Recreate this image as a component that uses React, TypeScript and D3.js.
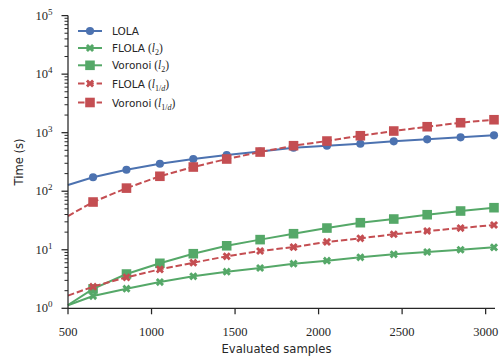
import React from "react";
import * as d3 from "d3";

// Evaluated sample counts (first point is the unmarked start of each curve)
const samples = [500, 650, 850, 1050, 1250, 1450, 1650, 1850, 2050, 2250, 2450, 2650, 2850, 3050];

// Run time in seconds for each method
const lola = [128, 173, 233, 295, 355, 415, 476, 553, 599, 648, 712, 770, 833, 901];
const flolaL2 = [1.13, 1.62, 2.16, 2.81, 3.52, 4.22, 4.88, 5.78, 6.5, 7.43, 8.36, 9.16, 10.0, 11.0];
const voronoiL2 = [1.14, 2.14, 3.85, 5.87, 8.56, 11.7, 14.9, 18.8, 23.5, 29.0, 33.5, 39.7, 45.9, 52.3];
const flolaL1d = [1.65, 2.34, 3.38, 4.63, 6.01, 7.73, 9.52, 11.1, 13.6, 15.7, 18.4, 20.9, 23.5, 26.5];
const voronoiL1d = [37.7, 65.4, 113, 180, 259, 355, 467, 599, 720, 887, 1067, 1264, 1480, 1664];

const xTicks = [500, 1000, 1500, 2000, 2500, 3000];
const yExponents = [0, 1, 2, 3, 4, 5];

const BLUE = "#4C72B0";
const GREEN = "#55A868";
const RED = "#C44E52";
const INK = "#262626";

type Series = {
  name: string;
  sub: string | null;
  values: number[];
  color: string;
  marker: "circle" | "x" | "square";
  dashed: boolean;
};

const series: Series[] = [
  { name: "LOLA", sub: null, values: lola, color: BLUE, marker: "circle", dashed: false },
  { name: "FLOLA", sub: "2", values: flolaL2, color: GREEN, marker: "x", dashed: false },
  { name: "Voronoi", sub: "2", values: voronoiL2, color: GREEN, marker: "square", dashed: false },
  { name: "FLOLA", sub: "1/d", values: flolaL1d, color: RED, marker: "x", dashed: true },
  { name: "Voronoi", sub: "1/d", values: voronoiL1d, color: RED, marker: "square", dashed: true },
];

const W = 500;
const H = 361;
const left = 68;
const right = 495;
const top = 15.6;
const bottom = 308.3;

const x = d3.scaleLinear().domain([500, 3056]).range([left, right]);
const y = d3.scaleLog().domain([1, 1e5]).range([bottom, top]);

const symbolPath = (m: Series["marker"]) => {
  if (m === "circle") return d3.symbol(d3.symbolCircle, 52)()!;
  if (m === "square") return d3.symbol(d3.symbolSquare, 92)()!;
  return d3.symbol(d3.symbolCross, 42)()!;
};

const Marker = ({ m, color, cx, cy }: { m: Series["marker"]; color: string; cx: number; cy: number }) => (
  <path
    d={symbolPath(m)}
    fill={color}
    transform={`translate(${cx},${cy})${m === "x" ? " rotate(45)" : ""}`}
  />
);

const SERIF = "'Liberation Serif', 'DejaVu Serif', serif";
const SANS = "'DejaVu Sans', sans-serif";

function SubLabel({ sub }: { sub: string }) {
  if (sub === "1/d") {
    return (
      <>
        <tspan dy={3} fontSize={8}>1/</tspan>
        <tspan fontSize={8} fontStyle="italic">d</tspan>
        <tspan dy={-3}>)</tspan>
      </>
    );
  }
  return (
    <>
      <tspan dy={3} fontSize={8}>{sub}</tspan>
      <tspan dy={-3}>)</tspan>
    </>
  );
}

export default function App() {
  const line = d3
    .line<number>()
    .x((_, i) => x(samples[i]))
    .y((v) => y(v));

  const minorTicks: number[] = [];
  for (let e = 0; e < 5; e++) {
    for (let k = 2; k <= 9; k++) minorTicks.push(k * Math.pow(10, e));
  }

  const legendRows = [31, 48, 65.3, 83.5, 102.5];

  return (
    <svg
      width={W}
      height={H}
      style={{ position: "absolute", left: 0, top: 0, background: "#fff" }}
    >
      <rect width={W} height={H} fill="#fff" />

      {/* series lines and markers */}
      {series.map((s, si) => (
        <g key={si}>
          <path
            d={line(s.values)!}
            fill="none"
            stroke={s.color}
            strokeWidth={2}
            strokeDasharray={s.dashed ? "6.5,2.8" : undefined}
          />
          {s.values.map((v, i) =>
            i === 0 ? null : (
              <Marker key={i} m={s.marker} color={s.color} cx={x(samples[i])} cy={y(v)} />
            )
          )}
        </g>
      ))}

      {/* axes */}
      <g stroke={INK} strokeWidth={1.25} fill="none">
        <line x1={left} x2={left} y1={top} y2={bottom} />
        <line x1={left} x2={right} y1={bottom} y2={bottom} />
        {xTicks.map((t) => (
          <line key={t} x1={x(t)} x2={x(t)} y1={bottom} y2={bottom + 6} />
        ))}
        {yExponents.map((e) => (
          <line key={e} x1={left - 6.5} x2={left} y1={y(Math.pow(10, e))} y2={y(Math.pow(10, e))} />
        ))}
        {minorTicks.map((t) => (
          <line key={t} x1={left - 3.5} x2={left} y1={y(t)} y2={y(t)} strokeWidth={1} />
        ))}
      </g>

      {/* tick labels */}
      <g fill={INK} fontFamily={SERIF} fontSize={12.5}>
        {xTicks.map((t) => (
          <text key={t} x={x(t)} y={336} textAnchor="middle">
            {t}
          </text>
        ))}
        {yExponents.map((e) => (
          <text key={e} x={52.5} y={y(Math.pow(10, e)) + 4} textAnchor="end">
            10
            <tspan dy={-5} fontSize={9}>
              {e}
            </tspan>
          </text>
        ))}
      </g>

      {/* axis titles */}
      <text x={(left + right) / 2 - 5} y={352.5} textAnchor="middle" fontFamily={SANS} fontSize={11.6} fill={INK}>
        Evaluated samples
      </text>
      <text
        transform={`translate(22.5,${(top + bottom) / 2}) rotate(-90)`}
        textAnchor="middle"
        fontFamily={SANS}
        fontSize={11.6}
        fill={INK}
      >
        Time (s)
      </text>

      {/* legend */}
      {series.map((s, i) => {
        const ly = legendRows[i];
        return (
          <g key={i}>
            <line
              x1={78}
              x2={102}
              y1={ly}
              y2={ly}
              stroke={s.color}
              strokeWidth={2}
              strokeDasharray={s.dashed ? "6.5,2.8" : undefined}
            />
            <Marker m={s.marker} color={s.color} cx={90} cy={ly} />
            <text x={112} y={ly + 4} fontFamily={SANS} fontSize={10.5} fill={INK}>
              {s.name}
              {s.sub && (
                <tspan fontFamily={SERIF} fontSize={11.5}>
                  {" ("}
                  <tspan fontStyle="italic">l</tspan>
                  <SubLabel sub={s.sub} />
                </tspan>
              )}
            </text>
          </g>
        );
      })}
    </svg>
  );
}
